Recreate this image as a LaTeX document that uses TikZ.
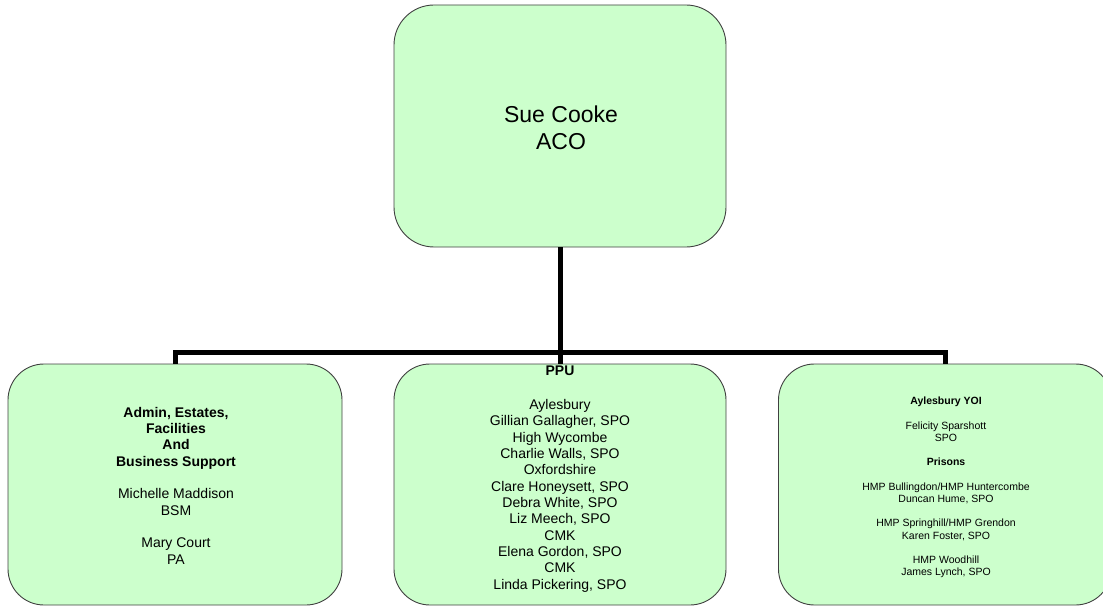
\documentclass[tikz,border=0pt]{standalone}
\usepackage{fontspec}
\setmainfont{Liberation Sans}
\definecolor{boxgreen}{HTML}{CCFFCC}
\definecolor{boxedge}{HTML}{404040}
\begin{document}
\begin{tikzpicture}[x=1pt,y=-1pt,
  orgbox/.style={draw=boxedge, line width=0.9pt, fill=boxgreen, rounded corners=36pt, inner sep=0pt},
  busline/.style={line width=5pt, black, line join=miter},
  txt/.style={inner sep=0pt, align=center, text=black}]
\useasboundingbox (0,0) rectangle (1103,607);
\clip (0,0) rectangle (1103,607);
% boxes
\node[orgbox, rounded corners=40pt, minimum width=332pt, minimum height=242pt] (top) at (560,126) {};
\node[orgbox, minimum width=334pt, minimum height=241pt] (left) at (175,484.5) {};
\node[orgbox, minimum width=332pt, minimum height=241pt] (mid) at (560,484.5) {};
\node[orgbox, minimum width=333pt, minimum height=241pt] (right) at (945,484.5) {};
% connectors
\coordinate (bus) at (560,352);
\draw[busline] (top.south) -- (mid.north);
\draw[busline] (left.north) |- (bus) -| (right.north);
% texts
\node[txt, anchor=north, font=\fontsize{23}{27.3}\selectfont] (toptxt) at (561,105.2) {Sue Cooke\\ACO};
\node[txt, anchor=north, font=\fontsize{14}{16.35}\selectfont] (lefttxt) at (176,406.7)
  {\textbf{Admin, Estates,}\\\textbf{Facilities}\\\textbf{And}\\\textbf{Business Support}\\[16.35pt]
   Michelle Maddison\\BSM\\[16.35pt]Mary Court\\PA};
\node[txt, anchor=base, font=\fontsize{14}{16.35}\selectfont\bfseries] (ppu) at (560,375) {PPU};
\node[txt, anchor=north, font=\fontsize{14}{16.35}\selectfont] (midtxt) at (560,399)
  {Aylesbury\\Gillian Gallagher, SPO\\High Wycombe\\Charlie Walls, SPO\\Oxfordshire\\Clare Honeysett, SPO\\Debra White, SPO\\Liz Meech, SPO\\CMK\\Elena Gordon, SPO\\CMK\\Linda Pickering, SPO};
\node[txt, anchor=north, font=\fontsize{10.5}{12.2}\selectfont] (righttxt) at (946,397)
  {\textbf{Aylesbury YOI}\\[12.2pt]Felicity Sparshott\\SPO\\[12.2pt]\textbf{Prisons}\\[12.2pt]
   HMP Bullingdon/HMP Huntercombe\\Duncan Hume, SPO\\[12.2pt]HMP Springhill/HMP Grendon\\Karen Foster, SPO\\[12.2pt]HMP Woodhill\\James Lynch, SPO};
\end{tikzpicture}
\end{document}
